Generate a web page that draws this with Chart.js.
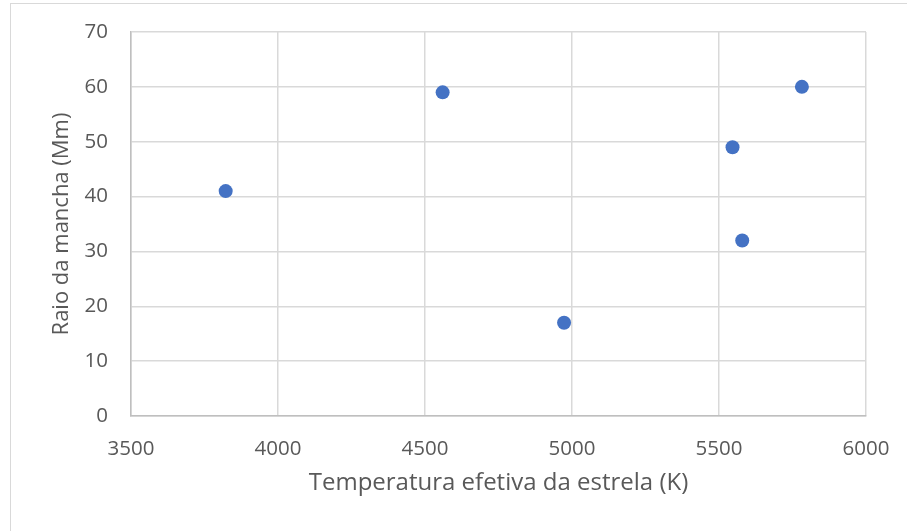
<!DOCTYPE html>
<html>
<head>
<meta charset="utf-8">
<script src="https://cdn.jsdelivr.net/npm/chart.js@4/dist/chart.umd.min.js"></script>
<style>
  html, body { margin: 0; padding: 0; background: #ffffff; }
  #wrap { position: relative; width: 907px; height: 531px; overflow: hidden; }
  #frame { position: absolute; left: 10px; top: 3px; width: 940px; height: 560px;
           border-left: 1.5px solid #d9d9d9; border-top: 1.5px solid #d9d9d9; box-sizing: border-box; }
  canvas { position: absolute; left: 0; top: 0; }
</style>
</head>
<body>
<div id="wrap">
  <div id="frame"></div>
  <canvas id="c" width="907" height="531"></canvas>
</div>
<script>
// Effective temperature of each star (K) and the measured spot radius (Mm)
const temperatures = [3822, 4560, 4973, 5546, 5579, 5782];
const spotRadii = [41, 59, 17, 49, 32, 60];

const xTicks = [3500, 4000, 4500, 5000, 5500, 6000];
const yTicks = [0, 10, 20, 30, 40, 50, 60, 70];

const xTitle = 'Temperatura efetiva da estrela (K)';
const yTitle = 'Raio da mancha (Mm)';

const points = temperatures.map((t, i) => ({ x: t, y: spotRadii[i] }));

const textColor = '#595959';
const gridColor = '#d9d9d9';
const family = '"Open Sans", "DejaVu Sans", sans-serif';
const tickFont = { family: family, size: 20.5 };
const xTitleFont = { family: family, size: 24 };
const yTitleFont = { family: family, size: 22 };

new Chart(document.getElementById('c'), {
  type: 'scatter',
  data: {
    datasets: [{
      data: points,
      backgroundColor: '#4472C4',
      borderColor: '#4472C4',
      borderWidth: 0,
      pointRadius: 7,
      pointHoverRadius: 7
    }]
  },
  options: {
    responsive: false,
    animation: false,
    events: [],
    layout: { padding: { left: 0, right: 41, top: 32, bottom: 0 } },
    plugins: { legend: { display: false }, tooltip: { enabled: false } },
    scales: {
      x: {
        type: 'linear',
        min: xTicks[0],
        max: xTicks[xTicks.length - 1],
        afterBuildTicks: (s) => { s.ticks = xTicks.map(v => ({ value: v })); },
        afterFit: (s) => { s.height = 115; },
        // invisible tick marks keep the labels clear of the axis
        grid: { color: gridColor, lineWidth: 1.5, drawTicks: true, tickLength: 21, tickColor: 'rgba(0,0,0,0)' },
        border: { color: '#bfbfbf', width: 1.5 },
        ticks: { color: textColor, font: tickFont, padding: 0, maxRotation: 0,
                 callback: (v) => String(v) },
        title: { display: true, text: xTitle, color: textColor, font: xTitleFont, padding: { top: 0, bottom: 33 } }
      },
      y: {
        type: 'linear',
        min: yTicks[0],
        max: yTicks[yTicks.length - 1],
        afterBuildTicks: (s) => { s.ticks = yTicks.map(v => ({ value: v })); },
        afterFit: (s) => { s.width = 131; },
        grid: { color: gridColor, lineWidth: 1.5, drawTicks: true, tickLength: 23, tickColor: 'rgba(0,0,0,0)' },
        border: { color: '#bfbfbf', width: 1.5 },
        ticks: { color: textColor, font: tickFont, padding: 0, callback: (v) => String(v) },
        title: { display: true, text: yTitle, color: textColor, font: yTitleFont, padding: { top: 49, bottom: 0 } }
      }
    }
  }
});
</script>
</body>
</html>
